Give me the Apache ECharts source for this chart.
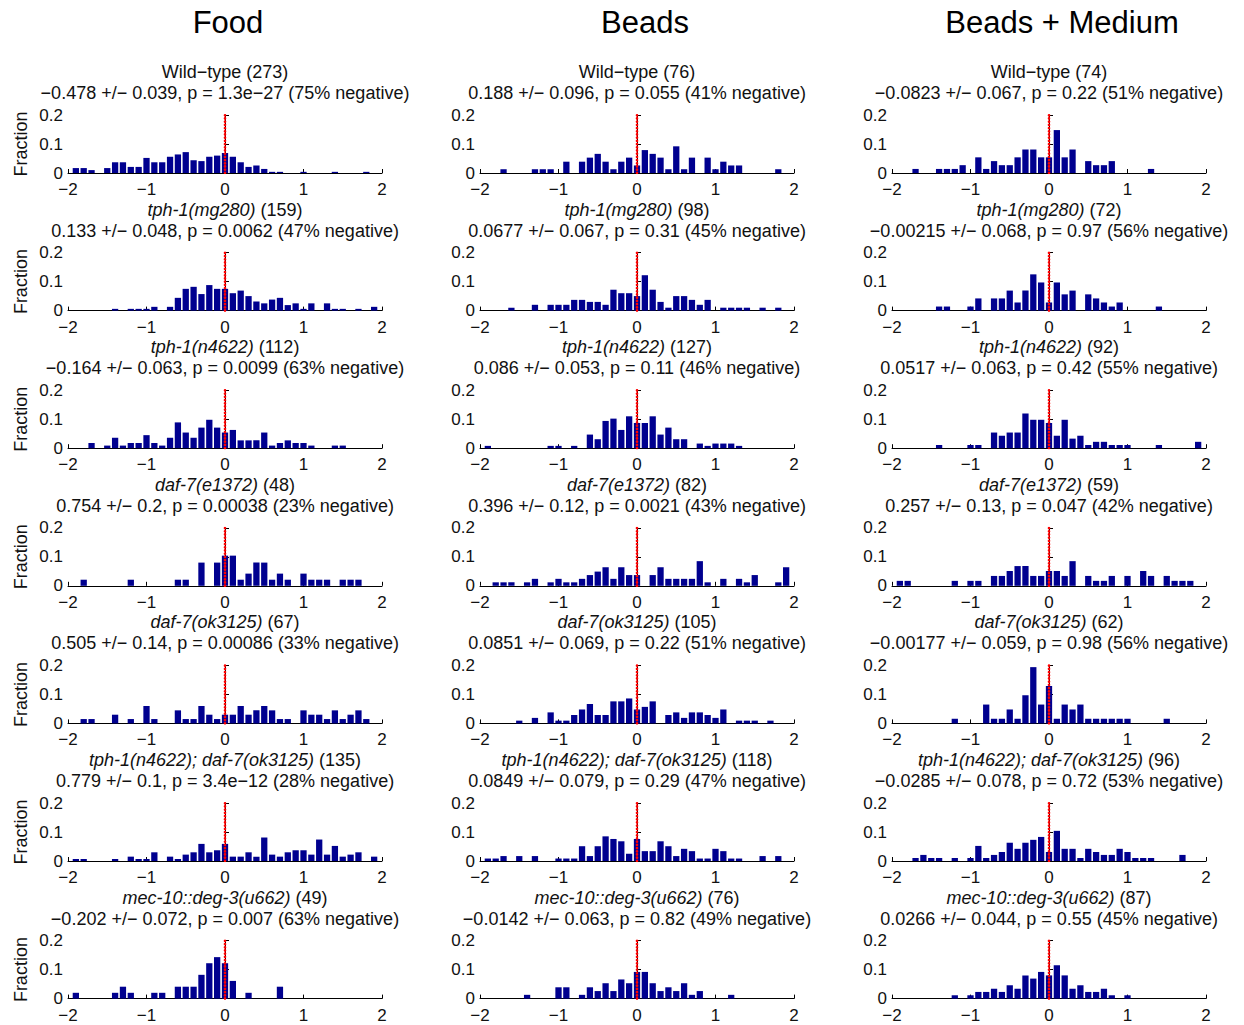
<!DOCTYPE html>
<html>
<head>
<meta charset="utf-8">
<script src="https://cdn.jsdelivr.net/npm/echarts@6/dist/echarts.min.js"></script>
<style>
  html, body { margin: 0; padding: 0; background: #ffffff; }
  #chart { width: 1244px; height: 1025px; }
</style>
</head>
<body>
<div id="chart"></div>
<script>
// Column conditions and row genotypes
const conditions = ['Food', 'Beads', 'Beads + Medium'];
const genotypes = ['Wild−type', 'tph-1(mg280)', 'tph-1(n4622)', 'daf-7(e1372)', 'daf-7(ok3125)',
                   'tph-1(n4622); daf-7(ok3125)', 'mec-10::deg-3(u662)'];
const italicGenotype = [false, true, true, true, true, true, true];

// Number of animals per panel [row][condition]
const animalCounts = [[273, 76, 74], [159, 98, 72], [112, 127, 92], [48, 82, 59],
                      [67, 105, 62], [135, 118, 96], [49, 76, 87]];
// Summary statistics per panel [row][condition]
const meanShift = [[-0.478, 0.188, -0.0823], [0.133, 0.0677, -0.00215], [-0.164, 0.086, 0.0517],
                   [0.754, 0.396, 0.257], [0.505, 0.0851, -0.00177], [0.779, 0.0849, -0.0285],
                   [-0.202, -0.0142, 0.0266]];
const semShift = [[0.039, 0.096, 0.067], [0.048, 0.067, 0.068], [0.063, 0.053, 0.063],
                  [0.2, 0.12, 0.13], [0.14, 0.069, 0.059], [0.1, 0.079, 0.078],
                  [0.072, 0.063, 0.044]];
const pValues = [[1.3e-27, 0.055, 0.22], [0.0062, 0.31, 0.97], [0.0099, 0.11, 0.42],
                 [0.00038, 0.0021, 0.047], [0.00086, 0.22, 0.98], [3.4e-12, 0.29, 0.72],
                 [0.007, 0.82, 0.55]];
const pctNegative = [[75, 41, 51], [47, 45, 56], [63, 46, 55], [23, 43, 42],
                     [33, 51, 56], [28, 47, 53], [63, 49, 45]];

// Histogram bin centres
const binCenters = [-2.0, -1.9, -1.8, -1.7, -1.6, -1.5, -1.4, -1.3, -1.2, -1.1,
                    -1.0, -0.9, -0.8, -0.7, -0.6, -0.5, -0.4, -0.3, -0.2, -0.1,
                     0.0,  0.1,  0.2,  0.3,  0.4,  0.5,  0.6,  0.7,  0.8,  0.9,
                     1.0,  1.1,  1.2,  1.3,  1.4,  1.5,  1.6,  1.7,  1.8,  1.9, 2.0];

// Fraction of animals per bin, one list per genotype row
const foodFractions = [
  [0,.017,.017,.010,0,.017,.037,.037,.021,.021, .052,.037,.037,.056,.064,.072,.044,.041,.056,.060,
   .069,.056,.037,.021,.026,.014,.004,.004,0,0, .004,0,0,0,.004,0,0,0,.004,0,0],
  [0,0,0,0,0,0,.006,0,.006,.006, .006,.013,0,.013,.044,.075,.082,.057,.088,.075,
   .075,.060,.069,.050,.031,.025,.038,.044,.019,.025, .006,.025,0,.025,.006,.006,0,.006,0,.013,0],
  [0,0,0,.018,0,.009,.036,.009,.018,.018, .045,.018,.009,.036,.089,.054,.036,.071,.098,.071,
   .054,.063,.027,.027,.027,.054,.009,.018,.027,.018, .018,.009,0,0,.009,.009,0,0,0,0,0],
  [0,0,.021,0,0,0,0,0,.021,0, 0,0,0,0,.021,.021,0,.080,0,.080,
   .104,.104,.021,.042,.080,.080,.021,.042,.021,0, .042,.021,.021,.021,0,.021,.021,.021,0,0,0],
  [0,0,.015,.015,0,0,.030,0,.015,0, .060,.015,0,0,.045,.015,.015,.060,.030,.015,
   .030,.030,.060,.030,.045,.060,.045,.015,.015,0, .045,.030,.030,.015,.045,.015,.030,.045,.015,0,0],
  [0,.007,.007,0,0,0,.007,0,.015,.007, .007,.030,0,.015,.007,.022,.030,.059,.030,.037,
   .059,.015,.015,.030,.015,.081,.022,.015,.030,.037, .037,.022,.074,.022,.052,.015,.022,.030,0,.015,0],
  [0,.020,0,0,0,0,.020,.041,.020,0, 0,.020,.020,0,.041,.041,.041,.082,.122,.143,
   .122,.061,0,.020,0,0,0,.041,0,0, 0,0,0,0,0,0,0,0,0,0,0]
];
const beadsFractions = [
  [0,0,0,.013,0,0,0,.013,.013,.013, 0,.039,0,.039,.053,.066,.039,.013,.039,.053,
   .026,.079,.066,.053,.013,.092,.013,.053,0,.053, .013,.039,.026,.026,0,0,0,0,.013,0,0],
  [0,0,0,0,.010,0,0,.020,0,.020, .020,.020,.037,.037,.030,.030,.020,.072,.060,.060,
   .050,.122,.072,.030,.010,.050,.050,.037,.020,.037, 0,.010,.010,.010,.010,0,.010,0,.010,0,0],
  [0,.008,0,0,0,0,0,0,0,.008, .008,0,.008,0,.047,.031,.094,.102,.063,.110,
   .087,.087,.110,.047,.071,.031,.031,0,.016,.008, .016,.016,.016,.008,0,0,0,0,0,0,0],
  [0,0,.012,.012,.012,0,.012,.024,0,.012, .024,.012,.012,.024,.037,.049,.064,.024,.064,.037,
   .037,0,.037,.064,.024,.024,.024,.024,.085,.012, 0,.024,0,.024,.012,.037,0,0,.012,.064,0],
  [0,0,0,0,0,.0095,0,.019,0,.038, .0095,.0095,.029,.048,.067,.029,.029,.076,.076,.086,
   .048,.057,.076,0,.029,.038,.019,.038,.038,.029, .019,.048,0,.0095,.0095,.0095,0,.0095,0,0,0],
  [0,.0085,.0085,.017,0,.017,0,.017,0,0, .0085,.0085,.0085,.051,.017,.051,.085,.076,.068,.025,
   .076,.034,.034,.068,.051,.017,.042,.034,.0085,.0085, .042,.034,.0085,.0085,0,0,.017,0,.017,0,0],
  [0,0,0,0,0,0,.013,0,0,0, .039,.039,0,.013,.039,.026,.053,.026,.066,.053,
   .092,.092,.053,.026,.039,.026,.053,.013,.026,0, 0,0,.013,0,0,0,0,0,0,0,0]
];
const mediumFractions = [
  [0,0,0,.014,0,0,.014,.014,.014,.027, 0,.054,.014,.041,.027,.027,.054,.081,.081,.054,
   .054,.148,.054,.081,0,.041,.027,.027,.041,0, 0,0,0,.014,0,0,0,0,0,0,0],
  [0,0,0,0,0,0,.014,.014,0,0, .014,.042,0,.042,.042,.069,.028,.069,.125,.097,
   .028,.097,.056,.069,0,.056,.042,.028,.014,.028, 0,0,0,0,.014,0,0,0,0,0,0],
  [0,0,0,0,0,0,.011,0,0,0, .011,.011,0,.054,.043,.054,.054,.120,.098,.098,
   .087,.043,.098,.033,.043,.011,.022,.022,.011,.011, .011,0,0,0,.011,0,0,0,0,.022,0],
  [0,.017,.017,0,0,0,0,0,.017,0, .017,.017,0,.034,.034,.051,.068,.068,.034,.034,
   .051,.051,.034,.085,0,.034,.017,.017,.034,0, .034,0,.051,.034,0,.034,.017,.017,.017,0,0],
  [0,0,0,0,0,0,0,0,.016,0, 0,0,.065,.016,.016,.048,.016,.097,.194,.065,
   .129,.016,.065,.048,.065,.016,.016,.016,.016,.016, .016,0,0,0,0,.016,0,0,0,0,0],
  [0,0,0,.0104,.021,.0104,.0104,0,.0104,0, .0104,.052,.0104,.021,.031,.063,.042,.063,.073,.083,
   .031,.104,.042,.042,.0104,.042,.031,.021,.021,.042, .031,.0104,.0104,.0104,0,0,0,.021,0,0,0],
  [0,0,0,0,0,0,0,0,.0115,0, .0115,.023,.023,.034,.023,.046,.034,.080,.069,.092,
   .080,.115,.080,.034,.046,.023,.023,.034,.0115,0, .0115,0,0,0,0,0,0,0,0,0,0]
];

// ---- layout ----
const FONT = "'Liberation Sans', Arial, Helvetica, sans-serif";
const COL_LEFT = [68, 480, 892];
const COL_TITLE_X = [228, 645, 1062];
const PLOT_W = 314;
const PLOT_H = 58;
const ROW_TOP0 = 115;
const ROW_STEP = 137.6;
const BAR_COLOR = '#00008F';

const minusSign = v => String(v).replace(/-/g, '\u2212');
const fractionsByCondition = [foodFractions, beadsFractions, mediumFractions];

const grids = [], xAxes = [], yAxes = [], series = [], graphics = [];

conditions.forEach((name, c) => {
  graphics.push({
    type: 'text', x: COL_TITLE_X[c], y: 22, silent: true,
    style: { text: name, fontSize: 31, fontFamily: FONT, fill: '#000',
             align: 'center', verticalAlign: 'middle' }
  });
});

genotypes.forEach((geno, r) => {
  conditions.forEach((cond, c) => {
    const i = grids.length;
    const left = COL_LEFT[c];
    const top = ROW_TOP0 + r * ROW_STEP;
    grids.push({ left: left, top: top, width: PLOT_W, height: PLOT_H });

    xAxes.push({
      gridIndex: i, type: 'value', min: -2, max: 2, interval: 1,
      axisLine: { show: true, onZero: false, lineStyle: { color: '#000', width: 1 } },
      axisTick: { show: true, inside: true, length: 4, lineStyle: { color: '#000' } },
      axisLabel: { fontSize: 17, fontFamily: FONT, color: '#111', margin: 8,
                   formatter: v => minusSign(v) },
      splitLine: { show: false }
    });
    yAxes.push({
      gridIndex: i, type: 'value', min: 0, max: 0.2, interval: 0.1,
      axisLine: { show: true, lineStyle: { color: '#000', width: 1 } },
      axisTick: { show: true, inside: true, length: 4, lineStyle: { color: '#000' } },
      axisLabel: { fontSize: 17, fontFamily: FONT, color: '#111', margin: 5 },
      splitLine: { show: false },
      name: c === 0 ? 'Fraction' : '',
      nameLocation: 'middle', nameGap: 38,
      nameTextStyle: { fontSize: 18, fontFamily: FONT, color: '#111' }
    });

    const fractions = fractionsByCondition[c][r];
    series.push({
      type: 'bar', xAxisIndex: i, yAxisIndex: i, silent: true,
      data: binCenters.map((x, j) => [x, fractions[j]]),
      barWidth: '80%',
      itemStyle: { color: BAR_COLOR }
    });
    // dotted reference line at zero shift (round-capped dots)
    series.push({
      type: 'line', xAxisIndex: i, yAxisIndex: i, silent: true, z: 5,
      data: [[0, 0], [0, 0.2]], symbol: 'none',
      lineStyle: { color: '#ff0000', width: 2.6, type: [0.2, 3], cap: 'round' }
    });

    const cx = left + PLOT_W / 2;
    const n = animalCounts[r][c];
    const header = italicGenotype[r] ? `{i|${geno}} (${n})` : `${geno} (${n})`;
    graphics.push({
      type: 'text', x: cx, y: top - 43, silent: true,
      style: { text: header, fontSize: 18, fontFamily: FONT, fill: '#111',
               align: 'center', verticalAlign: 'middle',
               rich: { i: { fontStyle: 'italic', fontSize: 18, fontFamily: FONT, fill: '#111' } } }
    });
    const stats = `${minusSign(meanShift[r][c])} +/\u2212 ${semShift[r][c]}, p = ${minusSign(pValues[r][c])} (${pctNegative[r][c]}% negative)`;
    graphics.push({
      type: 'text', x: cx, y: top - 22, silent: true,
      style: { text: stats, fontSize: 18, fontFamily: FONT, fill: '#111',
               align: 'center', verticalAlign: 'middle' }
    });
  });
});

const chart = echarts.init(document.getElementById('chart'), null,
  { renderer: 'svg', width: 1244, height: 1025 });
chart.setOption({
  backgroundColor: '#ffffff',
  animation: false,
  grid: grids,
  xAxis: xAxes,
  yAxis: yAxes,
  series: series,
  graphic: { elements: graphics }
});
</script>
</body>
</html>
